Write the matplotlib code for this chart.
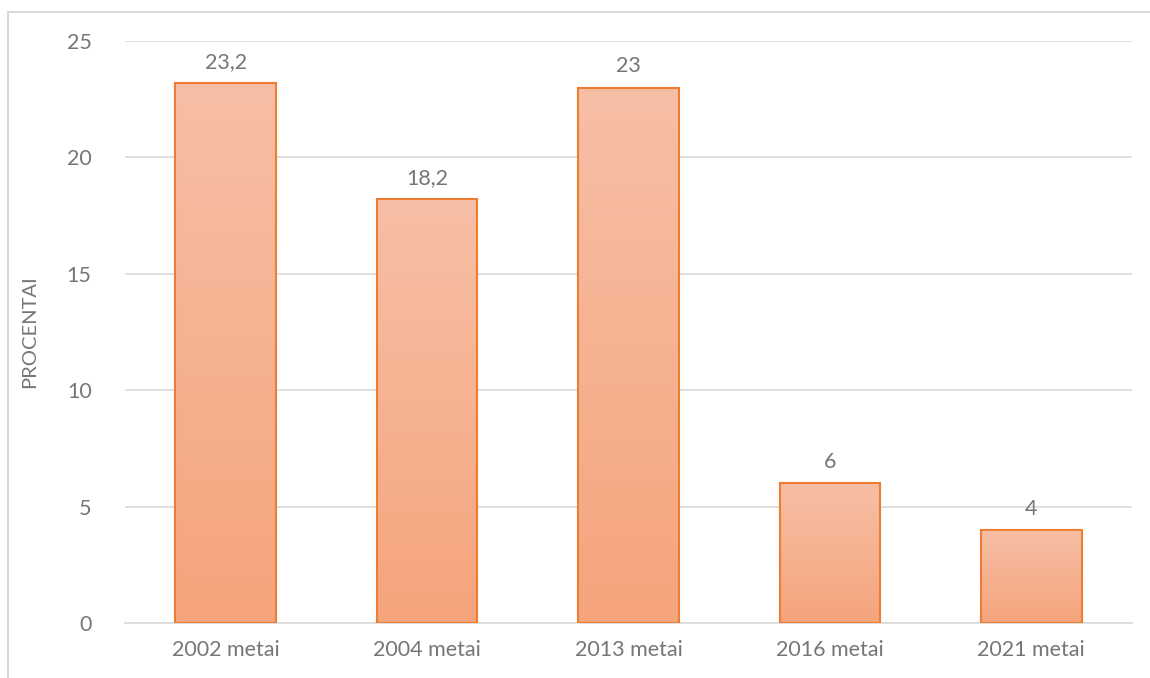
import matplotlib
matplotlib.use("Agg")
import matplotlib.pyplot as plt
import numpy as np
from matplotlib.patches import Rectangle
from matplotlib.colors import LinearSegmentedColormap

categories = ["2002 metai", "2004 metai", "2013 metai", "2016 metai", "2021 metai"]
values = [23.2, 18.2, 23.0, 6.0, 4.0]
labels = ["23,2", "18,2", "23", "6", "4"]
y_ticks = [0, 5, 10, 15, 20, 25]
y_label = "PROCENTAI"

plt.rcParams['font.family'] = ['Lato', 'DejaVu Sans']
text_color = "#767676"
grid_color = "#D9D9D9"

fig = plt.figure(figsize=(11.5, 6.78), dpi=100)
ax = fig.add_axes([125/1150, 1-623/678, (1132-125)/1150, (623-41)/678])

x = np.arange(len(categories))
bars = ax.bar(x, values, width=0.5, color="none", edgecolor="#ED7D31", linewidth=1.5, zorder=3)

cmap = LinearSegmentedColormap.from_list("g", ["#F5A47C", "#F7BFA6"])
grad = np.linspace(0, 1, 256).reshape(-1, 1)
for b in bars:
    bx, by = b.get_x(), b.get_y()
    w, h = b.get_width(), b.get_height()
    im = ax.imshow(grad, cmap=cmap, aspect="auto", origin="lower",
                   extent=[bx, bx + w, by, by + h], zorder=2)
    im.set_clip_path(b)

for xi, v, lab in zip(x, values, labels):
    ax.annotate(lab, (xi, v), xytext=(0, 8), textcoords="offset points",
                ha="center", va="bottom", fontsize=15.5, color=text_color)

ax.set_xlim(-0.5, len(categories) - 0.5)
ax.set_ylim(0, 25)
ax.set_yticks(y_ticks)
ax.set_yticklabels([str(t) for t in y_ticks])
ax.set_xticks(x)
ax.set_xticklabels(categories)
ax.tick_params(axis="both", length=0, labelsize=15.5, labelcolor=text_color)
ax.tick_params(axis="y", pad=24)
ax.tick_params(axis="x", pad=12)
ax.grid(axis="y", color=grid_color, linewidth=1.2, zorder=0)
ax.set_axisbelow(True)
for s in ["top", "right", "left"]:
    ax.spines[s].set_visible(False)
ax.spines["bottom"].set_color(grid_color)
ax.spines["bottom"].set_linewidth(1.2)
ax.set_ylabel(y_label, fontsize=14.5, color=text_color)
ax.yaxis.set_label_coords(-(125-30)/1007, 0.5)
ax.yaxis.label.set_va("center")

fig.patches.append(Rectangle((8/1150, -0.05), 1.2, 1.05 - 12/678, transform=fig.transFigure,
                             fill=False, edgecolor=grid_color, linewidth=1.5))

fig.savefig("out.png", dpi=100)
